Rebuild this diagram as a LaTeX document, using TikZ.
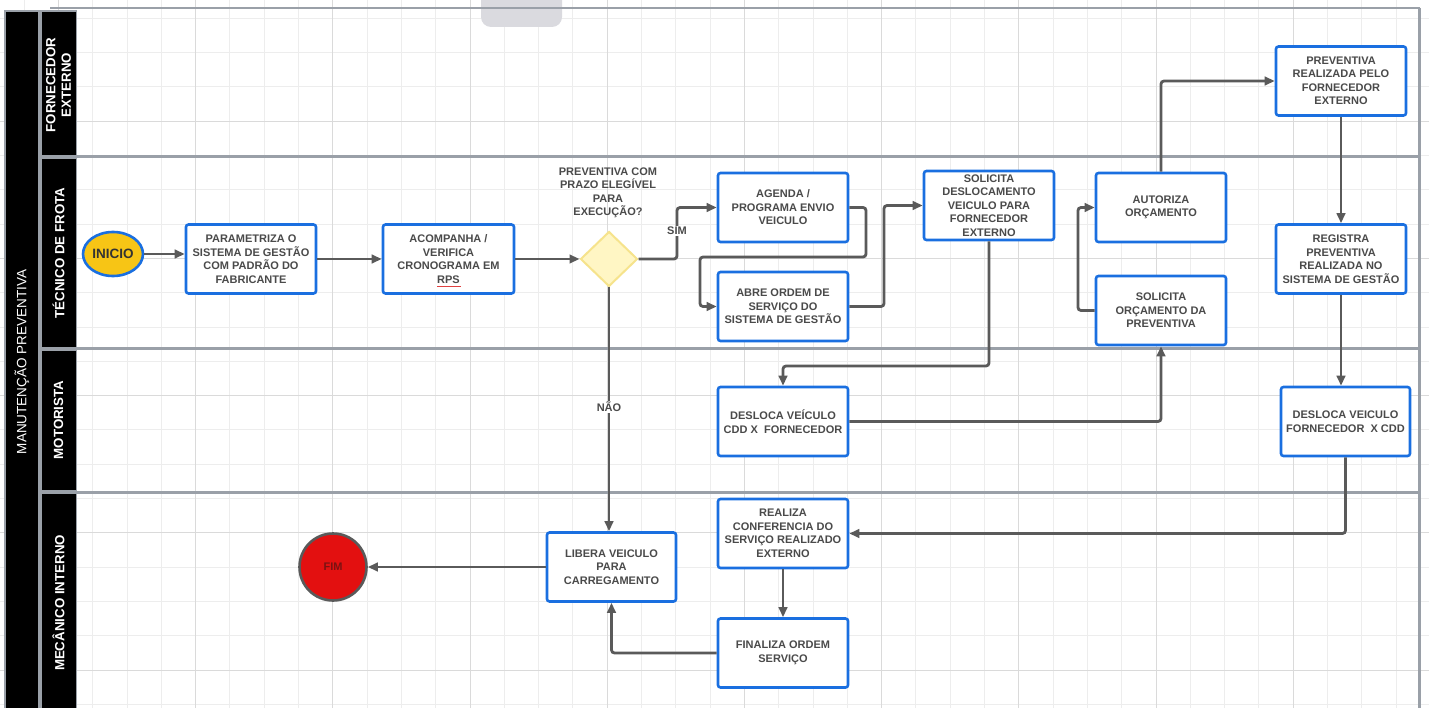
\documentclass[tikz,border=0pt]{standalone}
\usepackage{fontspec}
\setmainfont{Liberation Sans}
\usetikzlibrary{shapes.geometric,arrows.meta,calc}
\definecolor{boxblue}{HTML}{1A6FE0}
\definecolor{txtgray}{HTML}{4A4A4A}
\definecolor{linegray}{HTML}{5A5A5A}
\definecolor{lanegray}{HTML}{9AA0A8}
\definecolor{gridminor}{HTML}{EDEDED}
\definecolor{gridmajor}{HTML}{DADADA}
\definecolor{inicioyel}{HTML}{F7C515}
\definecolor{diafill}{HTML}{FFF6C4}
\definecolor{diadraw}{HTML}{F6E38C}
\definecolor{fimred}{HTML}{E31010}
\definecolor{fimtxt}{HTML}{7A1212}
\definecolor{tabgray}{HTML}{DADADF}
\definecolor{rpsred}{HTML}{E04040}
\begin{document}
\begin{tikzpicture}[x=1pt,y=-1pt,
  proc/.style={draw=boxblue, line width=2.6pt, fill=white, rounded corners=2.5pt,
    minimum width=130pt, minimum height=69pt, inner sep=0pt, align=center,
    text=txtgray, font=\bfseries\fontsize{11}{13.5}\selectfont},
  flow/.style={draw=linegray, line width=2.8pt, rounded corners=3pt,
    -{Triangle[length=10pt,width=8.5pt]}},
  lbl/.style={text=txtgray, font=\bfseries\fontsize{11}{13.5}\selectfont,
    align=center, inner sep=1pt},
  hdr/.style={text=white, font=\bfseries\fontsize{13.3}{15.5}\selectfont, align=center, rotate=90},
  poolhdr/.style={text=white, font=\fontsize{13.5}{15.5}\selectfont, align=center, rotate=90},
  hdrbox/.style={fill=black, draw=lanegray, line width=1.5pt},
]
\useasboundingbox (0,0) rectangle (1429,708);
\fill[white] (0,0) rectangle (1429,708);
% grid
\foreach \k in {0,...,41} {\draw[gridminor, line width=0.9pt] ({24.1+34.3*\k},0) -- ({24.1+34.3*\k},708);}
\foreach \k in {0,...,20} {\draw[gridminor, line width=0.9pt] (0,{18.3+34.3*\k}) -- (1429,{18.3+34.3*\k});}
\foreach \k in {1,5,...,41} {\draw[gridmajor, line width=0.9pt] ({24.1+34.3*\k},0) -- ({24.1+34.3*\k},708);}
\foreach \k in {3,7,...,19} {\draw[gridmajor, line width=0.9pt] (0,{18.3+34.3*\k}) -- (1429,{18.3+34.3*\k});}
% top tab
\fill[tabgray, rounded corners=10pt] (481,-20) rectangle (562,27);
% borders
\draw[lanegray, line width=2.5pt] (50,8) -- (1420,8);
\draw[lanegray, line width=2.5pt] (1419.5,8) -- (1419.5,712);
% headers
\draw[hdrbox] (5,11) rectangle (39,712);
\node[poolhdr] (pool) at (22,362) {MANUTENÇÃO PREVENTIVA};
\draw[hdrbox] (41,11) rectangle (76.5,156);
\draw[hdrbox] (41,158) rectangle (76.5,348);
\draw[hdrbox] (41,350) rectangle (76.5,491);
\draw[hdrbox] (41,493) rectangle (76.5,712);
\node[hdr] (l1) at (58.5,85) {FORNECEDOR\\EXTERNO};
\node[hdr] (l2) at (58.5,253) {TÉCNICO DE FROTA};
\node[hdr] (l3) at (58.5,420) {MOTORISTA};
\node[hdr] (l4) at (58.5,603) {MECÂNICO INTERNO};
% lane separators
\foreach \yy in {157,349,492} {\draw[lanegray, line width=3pt] (41,\yy) -- (1420,\yy);}
% nodes
\node[ellipse, draw=boxblue, line width=2.6pt, fill=inicioyel, minimum width=60pt, minimum height=44pt,
  inner sep=0pt, text=black!80, font=\bfseries\fontsize{13.5}{15}\selectfont] (ini) at (113,254) {INICIO};
\node[proc] (n1) at (251,259) {PARAMETRIZA O\\SISTEMA DE GESTÃO\\COM PADRÃO DO\\FABRICANTE};
\node[proc, minimum width=131pt] (n2) at (448.5,259) {ACOMPANHA /\\VERIFICA\\CRONOGRAMA EM\\RPS};
\draw[rpsred, line width=0.9pt] (437,286) -- (461,286);
\node[diamond, aspect=1, fill=diafill, draw=diadraw, line width=2pt, minimum width=57pt, minimum height=55pt,
  inner sep=0pt] (d) at (609,259) {};
\node[lbl] (q) at (608,193) {PREVENTIVA COM\\PRAZO ELEGÍVEL\\PARA\\EXECUÇÃO?};
\node[proc] (n3) at (783,207.5) {AGENDA /\\PROGRAMA ENVIO\\VEICULO};
\node[proc] (n4) at (783,306.5) {ABRE ORDEM DE\\SERVIÇO DO\\SISTEMA DE GESTÃO};
\node[proc] (n5) at (989,205.5) {SOLICITA\\DESLOCAMENTO\\VEICULO PARA\\FORNECEDOR\\EXTERNO};
\node[proc] (n6) at (1161,207.5) {AUTORIZA\\ORÇAMENTO};
\node[proc] (n7) at (1161,310.5) {SOLICITA\\ORÇAMENTO DA\\PREVENTIVA};
\node[proc] (n8) at (1341,81) {PREVENTIVA\\REALIZADA PELO\\FORNECEDOR\\EXTERNO};
\node[proc] (n9) at (1341,259) {REGISTRA\\PREVENTIVA\\REALIZADA NO\\SISTEMA DE GESTÃO};
\node[proc] (n10) at (783,421.5) {DESLOCA VEÍCULO\\CDD X~~FORNECEDOR};
\node[proc, minimum width=129pt] (n11) at (1345.5,421.5) {DESLOCA VEICULO\\FORNECEDOR~~X CDD};
\node[proc] (n12) at (783,533.5) {REALIZA\\CONFERENCIA DO\\SERVIÇO REALIZADO\\EXTERNO};
\node[proc] (n13) at (783,653) {FINALIZA ORDEM\\SERVIÇO};
\node[proc, minimum width=129pt] (n14) at (611.5,567) {LIBERA VEICULO\\PARA\\CARREGAMENTO};
\node[circle, draw=linegray, line width=2.6pt, fill=fimred, minimum size=67pt, inner sep=0pt,
  text=fimtxt, font=\bfseries\fontsize{11}{13}\selectfont] (fim) at (333,567) {FIM};
% connectors
\draw[flow] (ini.east) -- (ini.east -| n1.west);
\draw[flow] (n1.east) -- (n2.west);
\draw[flow] (n2.east) -- (d.west);
\draw[flow] (d.east) -- (677,259) |- (n3.west);
\draw[flow] (n3.east) -- (866,207.5) -- (866,257) -- (700,257) |- (n4.west);
\draw[flow] (n4.east) -- (884,306.5) |- (n5.west);
\draw[flow] (n5.south) -- (989,366) -| (n10.north);
\draw[flow] (n10.east) -| (n7.south);
\draw[flow] (n7.west) -- (1078,310.5) |- (n6.west);
\draw[flow] (n6.north) |- (n8.west);
\draw[flow] (n8.south) -- (n9.north);
\draw[flow] (n9.south) -- (n9.south |- n11.north);
\draw[flow] (n11.south) |- (n12.east);
\draw[flow] (n12.south) -- (n13.north);
\draw[flow] (n13.west) -| (n14.south);
\draw[flow] (d.south) -- (d.south |- n14.north);
\draw[flow] (n14.west) -- (fim.east);
% labels
\node[lbl, fill=white] (sim) at (677,231) {SIM};
\node[lbl, fill=white] (nao) at (609,407) {NÃO};
\end{tikzpicture}
\end{document}
